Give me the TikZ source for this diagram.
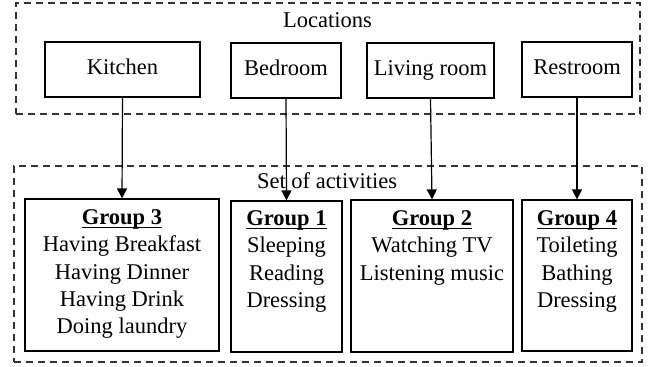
\documentclass[tikz,border=0pt]{standalone}
\usepackage{fontspec}
\setmainfont{Liberation Serif}
\usetikzlibrary{arrows.meta,fit}
\newcommand\myul[1]{\leavevmode\setbox0\hbox{#1}\rlap{\raisebox{-1.8pt}{\rule{\wd0}{0.6pt}}}\box0}
\begin{document}
\begin{tikzpicture}[x=0.5pt,y=-0.5pt,
  every node/.style={font=\fontsize{11.25}{13.6}\selectfont},
  dashbox/.style={draw=black!80, dash pattern=on 3.5pt off 2.5pt, line width=0.6pt, inner sep=0pt},
  locbox/.style={draw, line width=0.6pt, inner sep=0pt, minimum height=27.5pt, text height=7.5pt, text depth=2.2pt},
  grpbox/.style={draw, line width=0.6pt, inner sep=0pt},
  grptext/.style={anchor=north, align=center, inner sep=0pt},
  link/.style={line width=0.6pt, -{Triangle[length=5pt,width=5pt]}}
]
\useasboundingbox (0,0) rectangle (659,367);
% dashed containers
\node (loc) [dashbox, fit={(16,3) (640,114)}] {};
\node (act) [dashbox, fit={(14,166) (642,362)}] {};
\node (loclabel) [anchor=base, inner sep=0pt] at (327.5,28) {Locations};
\node (actlabel) [anchor=base, inner sep=0pt] at (327,189) {Set of activities};
% location boxes
\node (kit) [locbox, minimum width=77.5pt] at (122.5,69.5) {Kitchen};
\node (bed) [locbox, minimum width=55pt] at (286,70.5) {Bedroom};
\node (liv) [locbox, minimum width=63.5pt] at (430.5,70.5) {Living room};
\node (rest) [locbox, minimum width=55pt] at (577,69.5) {Restroom};
% group boxes
\node (g3) [grpbox, minimum width=97pt, minimum height=76pt] at (122,275) {};
\node (g1) [grpbox, minimum width=55.5pt, minimum height=75.5pt] at (286.5,276.5) {};
\node (g2) [grpbox, minimum width=81pt, minimum height=76pt] at (432,276) {};
\node (g4) [grpbox, minimum width=55pt, minimum height=75.5pt] at (577,275.5) {};
\node (g3t) [grptext] at ([yshift=-5.5pt]g3.north) {\myul{\textbf{Group 3}}\\Having Breakfast\\Having Dinner\\Having Drink\\Doing laundry};
\node (g1t) [grptext] at ([yshift=-5pt]g1.north) {\myul{\textbf{Group 1}}\\Sleeping\\Reading\\Dressing};
\node (g2t) [grptext] at ([yshift=-5.5pt]g2.north) {\myul{\textbf{Group 2}}\\Watching TV\\Listening music};
\node (g4t) [grptext] at ([yshift=-5.5pt]g4.north) {\myul{\textbf{Group 4}}\\Toileting\\Bathing\\Dressing};
% connectors
\draw[link] (kit.south) -- (g3.north);
\draw[link] (bed.south) -- (g1.north);
\draw[link] (liv.south) -- (g2.north);
\draw[link] (rest.south) -- (g4.north);
\end{tikzpicture}
\end{document}
